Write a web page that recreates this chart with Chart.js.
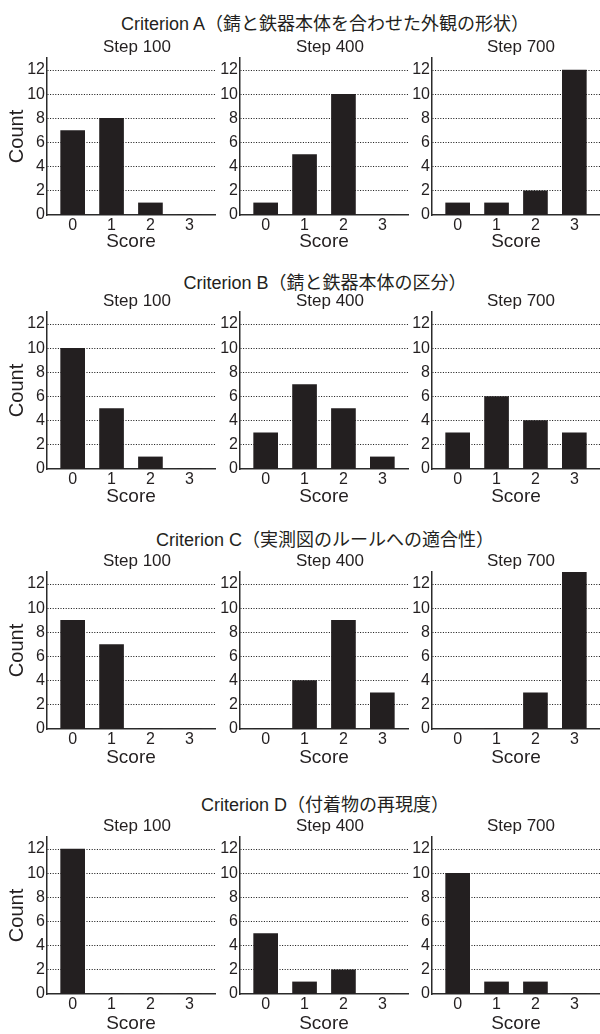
<!DOCTYPE html>
<html><head><meta charset="utf-8">
<script src="https://cdn.jsdelivr.net/npm/chart.js@4.4.1/dist/chart.umd.min.js"></script>
<style>
html,body{margin:0;padding:0;background:#fff;}
#wrap{position:relative;width:600px;height:1034px;overflow:hidden;background:#fff;}
canvas{position:absolute;}
.crit{position:absolute;left:0;width:650px;text-align:center;font-size:18px;font-family:'Liberation Sans','Noto Sans CJK JP',sans-serif;color:#231f20;white-space:nowrap;line-height:20px;}
</style></head><body><div id="wrap"></div>
<script>
// ---- data ----
const scores = [0, 1, 2, 3];
const yTicks = [0, 2, 4, 6, 8, 10, 12];
const steps = ['Step 100', 'Step 400', 'Step 700'];
const criteria = [
  'Criterion A（錆と鉄器本体を合わせた外観の形状）',
  'Criterion B（錆と鉄器本体の区分）',
  'Criterion C（実測図のルールへの適合性）',
  'Criterion D（付着物の再現度）'
];
const critA_step100 = [7, 8, 1, 0];
const critA_step400 = [1, 5, 10, 0];
const critA_step700 = [1, 1, 2, 12];
const critB_step100 = [10, 5, 1, 0];
const critB_step400 = [3, 7, 5, 1];
const critB_step700 = [3, 6, 4, 3];
const critC_step100 = [9, 7, 0, 0];
const critC_step400 = [0, 4, 9, 3];
const critC_step700 = [0, 0, 3, 13];
const critD_step100 = [12, 0, 0, 0];
const critD_step400 = [5, 1, 2, 0];
const critD_step700 = [10, 1, 1, 0];
const panels = [
  [critA_step100, critA_step400, critA_step700],
  [critB_step100, critB_step400, critB_step700],
  [critC_step100, critC_step400, critC_step700],
  [critD_step100, critD_step400, critD_step700]
];
const xLabel = 'Score';
const yLabel = 'Count';

// ---- layout ----
const FONT = "'Liberation Sans', 'Noto Sans CJK JP', sans-serif";
const INK = '#231f20';
const rowTop = [58, 312, 572, 837];
const rowZero = [215, 469, 729, 994];
const critY = [24, 283, 540, 805];
const scoreY = [241.5, 497, 758, 1024];
const axisX = [47, 240, 432];
const areaR = [215, 408, 600];
const titleCX = [137, 330, 521];
const yW = [47, 28, 28];

Chart.defaults.font.family = FONT;
Chart.defaults.color = INK;

const wrap = document.getElementById('wrap');
criteria.forEach((t, r) => {
  const d = document.createElement('div');
  d.className = 'crit';
  d.textContent = t;
  d.style.top = (critY[r] - 10) + 'px';
  wrap.appendChild(d);
});

panels.forEach((row, r) => {
  row.forEach((vals, c) => {
    const L = axisX[c] - yW[c];
    const R = 2 * titleCX[c] - L;
    const W = R - L;
    const pr = R - areaR[c];
    const T = rowTop[r] - 22;
    const xh = (scoreY[r] - rowZero[r]) + 11.4;
    const H = Math.ceil(rowZero[r] - T + xh);
    const cv = document.createElement('canvas');
    cv.width = W; cv.height = H;
    cv.style.left = L + 'px'; cv.style.top = T + 'px';
    cv.style.width = W + 'px'; cv.style.height = H + 'px';
    wrap.appendChild(cv);
    const xhFix = H - (rowZero[r] - T);
    const titlePadBottom = xhFix - xh;
    new Chart(cv, {
      type: 'bar',
      data: {
        datasets: [{
          data: vals.map((v, i) => ({x: scores[i], y: v})),
          backgroundColor: INK,
          borderWidth: 0,
          barThickness: 24
        }]
      },
      options: {
        responsive: false,
        animation: false,
        events: [],
        devicePixelRatio: 1,
        layout: {padding: 0},
        plugins: {
          legend: {display: false},
          tooltip: {enabled: false},
          title: {
            display: true,
            text: steps[c],
            color: INK,
            font: {size: 17, weight: 'normal', family: FONT},
            padding: {top: 0.8, bottom: 0.8}
          }
        },
        scales: {
          x: {
            type: 'linear',
            offset: false,
            min: -0.66, max: 3.66,
            afterBuildTicks: s => { s.ticks = scores.map(v => ({value: v})); },
            afterFit: s => { s.height = xhFix; },
            grid: {display: true, offset: false, drawTicks: false, color: 'rgba(0,0,0,0)'},
            border: {display: true, color: '#2b2b2b', width: 1.5},
            ticks: {font: {size: 16}, color: INK, padding: 1, maxRotation: 0},
            title: {display: true, text: xLabel, color: INK, font: {size: 19}, padding: {top: 0, bottom: titlePadBottom}}
          },
          y: {
            type: 'linear',
            min: 0, max: 13,
            afterBuildTicks: s => { s.ticks = yTicks.map(v => ({value: v})); },
            afterFit: s => { s.width = yW[c]; },
            grid: {
              display: true, drawTicks: false, lineWidth: 1,
              color: ctx => (ctx.tick && ctx.tick.value === 0) ? 'rgba(0,0,0,0)' : '#111'
            },
            border: {display: true, color: '#2b2b2b', width: 1.5, dash: [1, 1.6]},
            ticks: {font: {size: 16}, color: INK, padding: 2},
            title: {display: c === 0, text: yLabel, color: INK, font: {size: 20}, padding: {top: 5.5, bottom: 0}}
          },
          pad: {
            type: 'linear', position: 'right', display: true,
            afterFit: s => { s.width = pr; },
            ticks: {display: false},
            grid: {display: false, drawTicks: false},
            border: {display: false},
            title: {display: false}
          }
        }
      }
    });
  });
});
</script>
</body></html>
